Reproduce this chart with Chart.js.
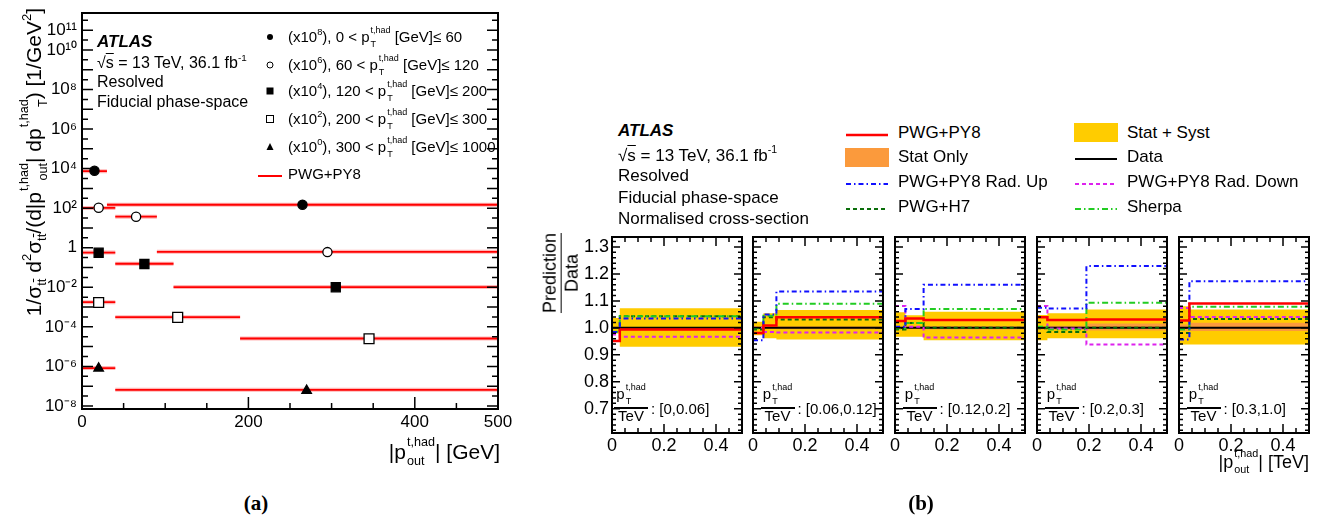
<!DOCTYPE html>
<html>
<head>
<meta charset="utf-8">
<script src="https://cdn.jsdelivr.net/npm/chart.js@4.4.1/dist/chart.umd.min.js"></script>
<style>
  html, body { margin: 0; padding: 0; background: #fff; }
  body { position: relative; width: 1322px; height: 518px; overflow: hidden; color: #000;
         font-family: "Liberation Sans", Arial, sans-serif; }
  .box { position: absolute; }
  .t { position: absolute; white-space: nowrap; line-height: 2; }
  .ss { display: inline-block; font-size: 0.6em; line-height: 1.55; vertical-align: -0.5em; margin-left: 1px; }
  .ss > span { display: block; }
  sup { font-size: 0.62em; line-height: 0; vertical-align: 0.75em; }
  sub { font-size: 0.62em; line-height: 0; vertical-align: -0.4em; }
  .ov { text-decoration: overline; }
  .frac { display: inline-block; text-align: center; line-height: 1.15; }
  .frac > span { display: block; }
  .frac > .den { border-top: 1.5px solid #000; }
</style>
</head>
<body>
<div class="box" style="left:0;top:-4px;width:520px;height:474px"><canvas id="chartA"></canvas></div>
<div class="box" id="panel0" style="top:222px;height:251px"><canvas id="chartB0"></canvas></div>
<div class="box" id="panel1" style="top:222px;height:251px"><canvas id="chartB1"></canvas></div>
<div class="box" id="panel2" style="top:222px;height:251px"><canvas id="chartB2"></canvas></div>
<div class="box" id="panel3" style="top:222px;height:251px"><canvas id="chartB3"></canvas></div>
<div class="box" id="panel4" style="top:222px;height:251px"><canvas id="chartB4"></canvas></div>
<script>
/**
 * pT(t,had) slices and the scale factor each slice is drawn with in (a)
 */
const ptEdgesGeV = ['0', '60', '120', '200', '300', '1000'];
const ptScaleExp = [8, 6, 4, 2, 0];
const ptRangesTeV = ['[0,0.06]', '[0.06,0.12]', '[0.12,0.2]', '[0.2,0.3]', '[0.3,1.0]'];

/**
 * |pout| bin edges (GeV) per slice
 */
const poutEdges0 = [0, 30, 500];
const poutEdges1 = [0, 40, 90, 500];
const poutEdges2 = [0, 40, 110, 500];
const poutEdges3 = [0, 40, 190, 500];
const poutEdges4 = [0, 40, 500];

/**
 * (a) measured cross-sections, already multiplied by the slice factor
 */
const xsecData0 = [7.8e3, 150];
const xsecData1 = [105, 37, 0.6];
const xsecData2 = [0.56, 0.15, 0.010];
const xsecData3 = [1.7e-3, 3.0e-4, 2.5e-5];
const xsecData4 = [8.0e-7, 6.0e-8];

/**
 * (a) PWG+PY8 prediction
 */
const xsecPwgPy80 = [7.4e3, 149];
const xsecPwgPy81 = [103, 37.3, 0.62];
const xsecPwgPy82 = [0.57, 0.155, 0.0103];
const xsecPwgPy83 = [1.76e-3, 3.07e-4, 2.57e-5];
const xsecPwgPy84 = [8.2e-7, 6.5e-8];

/**
 * (b) prediction / data, one list per slice
 */
const ratioPwgPy8 = [[0.951, 0.994], [0.981, 1.009, 1.039], [1.025, 1.035, 1.029], [1.039, 1.029, 1.031], [1.027, 1.090]];
const ratioRadUp = [[0.985, 1.035], [0.954, 1.050, 1.135], [1.004, 1.070, 1.160], [1.075, 1.072, 1.229], [0.957, 1.173]];
const ratioRadDown = [[0.975, 0.967], [1.000, 0.985, 0.983], [1.081, 1.004, 0.964], [1.081, 0.998, 0.938], [1.074, 1.040]];
const ratioPwgH7 = [[0.984, 1.043], [0.994, 1.039, 1.031], [0.994, 1.018, 1.000], [0.999, 0.985, 1.000], [0.981, 1.033]];
const ratioSherpa = [[0.986, 1.043], [0.999, 1.045, 1.089], [0.999, 1.018, 1.070], [1.004, 0.994, 1.093], [0.994, 1.078]];
const ratioData = [[1, 1], [1, 1, 1], [1, 1, 1], [1, 1, 1], [1, 1]];

/**
 * (b) uncertainty bands
 */
const totUp = [[1.037, 1.073], [1.023, 1.054, 1.066], [1.058, 1.047, 1.060], [1.048, 1.054, 1.068], [1.080, 1.068]];
const totDown = [[0.979, 0.930], [0.973, 0.961, 0.957], [0.967, 0.967, 0.954], [0.954, 0.961, 0.961], [0.938, 0.938]];
const statUp = [[1.004, 1.003], [1.004, 1.004, 1.005], [1.005, 1.005, 1.006], [1.006, 1.008, 1.016], [1.012, 1.019]];
const statDown = [[0.996, 0.997], [0.996, 0.996, 0.995], [0.995, 0.995, 0.994], [0.994, 0.992, 0.990], [0.988, 0.988]];

const poutEdges = [poutEdges0, poutEdges1, poutEdges2, poutEdges3, poutEdges4];
const xsecData = [xsecData0, xsecData1, xsecData2, xsecData3, xsecData4];
const xsecPwgPy8 = [xsecPwgPy80, xsecPwgPy81, xsecPwgPy82, xsecPwgPy83, xsecPwgPy84];

Chart.defaults.font.family = '"Liberation Sans", Arial, sans-serif';
Chart.defaults.color = '#000';

/**
 * ROOT style frame with inward ticks
 */
const rootFrame = {
    id: 'rootFrame',
    afterDatasetsDraw(chart, args, opts) {
        const { ctx, chartArea: a } = chart;
        const xs = chart.scales.x, ys = chart.scales.y;
        ctx.save();
        ctx.strokeStyle = '#000';
        ctx.lineWidth = 1.5;
        ctx.beginPath();
        (opts.xTicks || []).forEach(([v, len]) => {
            const px = xs.getPixelForValue(v);
            if (px < a.left + 1 || px > a.right - 1) return;
            ctx.moveTo(px, a.bottom); ctx.lineTo(px, a.bottom - len);
            if (opts.top) { ctx.moveTo(px, a.top); ctx.lineTo(px, a.top + len); }
        });
        (opts.yTicks || []).forEach(([v, len]) => {
            const py = ys.getPixelForValue(v);
            if (py < a.top + 1 || py > a.bottom - 1) return;
            ctx.moveTo(a.left, py); ctx.lineTo(a.left + len, py);
            ctx.moveTo(a.right, py); ctx.lineTo(a.right - len, py);
        });
        ctx.stroke();
        ctx.lineWidth = 2;
        ctx.strokeRect(a.left, a.top, a.width, a.height);
        ctx.restore();
    }
};

/**
 * Helpers
 */
const supMap = { '0': '⁰', '1': '¹', '2': '²', '3': '³', '4': '⁴', '5': '⁵', '6': '⁶', '7': '⁷', '8': '⁸', '9': '⁹', '-': '⁻' };
const toSup = n => String(n).split('').map(c => supMap[c]).join('');
const ss = (up, down) => '<span class="ss"><span>' + up + '</span><span>' + down + '</span></span>';

function put(html, x, cy, size, style) {
    const d = document.createElement('div');
    d.className = 't';
    d.style.fontSize = size + 'px';
    d.style.top = (cy - size) + 'px';
    d.style.left = x + 'px';
    if (style) Object.assign(d.style, style);
    d.innerHTML = html;
    document.body.appendChild(d);
    return d;
}

function svg(x, y, w, h, inner) {
    const d = document.createElement('div');
    d.className = 'box';
    d.style.left = x + 'px';
    d.style.top = y + 'px';
    d.innerHTML = '<svg width="' + w + '" height="' + h + '">' + inner + '</svg>';
    document.body.appendChild(d);
}

function segPoints(edges, vals) {
    const pts = [];
    vals.forEach((v, i) => {
        pts.push({ x: edges[i], y: v }, { x: edges[i + 1], y: v }, { x: edges[i + 1], y: null });
    });
    return pts;
}

function centrePoints(edges, vals) {
    return vals.map((v, i) => ({ x: (edges[i] + edges[i + 1]) / 2, y: v }));
}

function histPoints(edges, vals) {
    const pts = vals.map((v, i) => ({ x: edges[i], y: v }));
    pts.push({ x: edges[edges.length - 1], y: vals[vals.length - 1] });
    return pts;
}

/**
 * (a) Cross-sections
 */
const markerStyles = [
    { pointStyle: 'circle', pointRadius: 4.6, pointBackgroundColor: '#000' },
    { pointStyle: 'circle', pointRadius: 4.6, pointBackgroundColor: '#fff' },
    { pointStyle: 'rect', pointRadius: 6.4, pointBackgroundColor: '#000' },
    { pointStyle: 'rect', pointRadius: 7, pointBackgroundColor: '#fff' },
    { pointStyle: 'triangle', pointRadius: 5.5, pointBackgroundColor: '#000' }
];

const datasetsA = [];
poutEdges.forEach((edges, k) => {
    // prediction halo
    datasetsA.push({
        label: 'PWG+PY8 unc.',
        data: segPoints(edges, xsecPwgPy8[k]),
        showLine: true,
        spanGaps: false,
        borderColor: 'rgba(255,90,90,0.45)',
        borderWidth: 4,
        pointRadius: 0,
        order: 3
    });
    datasetsA.push({
        label: 'PWG+PY8',
        data: segPoints(edges, xsecPwgPy8[k]),
        showLine: true,
        spanGaps: false,
        borderColor: '#ff0000',
        borderWidth: 1.8,
        pointRadius: 0,
        order: 2
    });
    datasetsA.push(Object.assign({
        label: 'Data',
        data: centrePoints(edges, xsecData[k]),
        showLine: false,
        pointBorderColor: '#000',
        pointBorderWidth: 1.3,
        order: 1
    }, markerStyles[k]));
});

const xTicksA = [];
for (let v = 50; v < 500; v += 50) xTicksA.push([v, v % 200 === 0 ? 12 : 6]);
const yTicksA = [];
for (let e = -9; e <= 11; e++) {
    yTicksA.push([Math.pow(10, e), 11]);
    yTicksA.push([Math.pow(10, e + 0.5), 6]);
}

new Chart(document.getElementById('chartA'), {
    type: 'scatter',
    data: { datasets: datasetsA },
    options: {
        responsive: true,
        maintainAspectRatio: false,
        animation: false,
        layout: { padding: { top: 17, right: 22, left: 0, bottom: 0 } },
        plugins: {
            legend: { display: false },
            tooltip: { enabled: false },
            rootFrame: { xTicks: xTicksA, yTicks: yTicksA, top: false }
        },
        scales: {
            x: {
                type: 'linear', min: 0, max: 500,
                grid: { display: false, drawTicks: false },
                border: { display: false },
                afterBuildTicks: s => { s.ticks = [0, 200, 400, 500].map(v => ({ value: v })); },
                afterFit: s => { s.height = 61; },
                ticks: { padding: 3, maxRotation: 0, autoSkip: false, font: { size: 17 } }
            },
            y: {
                type: 'logarithmic', min: 7.5e-9, max: 7.4e11,
                grid: { display: false, drawTicks: false },
                border: { display: false },
                afterBuildTicks: s => {
                    const t = [];
                    for (let e = -8; e <= 11; e++) t.push({ value: Math.pow(10, e) });
                    s.ticks = t;
                },
                afterFit: s => { s.width = 82; },
                ticks: {
                    padding: 5, autoSkip: false, font: { size: 17 },
                    callback: v => {
                        const e = Math.round(Math.log10(v));
                        if (e % 2 !== 0 && e !== 11) return '';
                        return e === 0 ? '1' : '10' + toSup(e);
                    }
                }
            }
        }
    },
    plugins: [rootFrame]
});

/**
 * (b) Ratio panels
 */
const panelLeft = [612, 753, 895, 1037, 1179];
const panelWidth = 130;

const xTicksB = [];
for (let i = 1; i < 10; i++) xTicksB.push([i * 0.05, i % 4 === 0 ? 9 : 5]);
const yTicksB = [];
for (let i = 31; i <= 67; i++) yTicksB.push([i / 50, i % 5 === 0 ? 8 : 4]);

function lineSet(label, edges, vals, color, width, dash, order) {
    return {
        label, data: histPoints(edges, vals), borderColor: color, borderWidth: width,
        borderDash: dash, stepped: true, pointRadius: 0, fill: false, order
    };
}

function bandSet(label, edges, vals, color, fillNext, order) {
    return {
        label, data: histPoints(edges, vals), borderWidth: 0, borderColor: 'rgba(0,0,0,0)',
        backgroundColor: color, fill: fillNext ? '+1' : false, stepped: true, pointRadius: 0, order
    };
}

panelLeft.forEach((left, k) => {
    const first = k === 0;
    const yw = first ? 50 : 0;
    const padL = first ? 0 : 12;
    const holder = document.getElementById('panel' + k);
    holder.style.left = (left - yw - padL) + 'px';
    holder.style.width = (yw + padL + panelWidth + 4) + 'px';

    const edges = poutEdges[k].map(e => e / 1000);

    new Chart(document.getElementById('chartB' + k), {
        type: 'line',
        data: {
            datasets: [
                lineSet('PWG+PY8', edges, ratioPwgPy8[k], '#ff0000', 2.5, [], 0),
                lineSet('PWG+PY8 Rad. Up', edges, ratioRadUp[k], '#1010ff', 2, [5, 3, 1.5, 3], 1),
                lineSet('Sherpa', edges, ratioSherpa[k], '#22cc22', 2, [6, 3, 1.5, 3], 2),
                lineSet('PWG+H7', edges, ratioPwgH7[k], '#0a6e0a', 2, [4, 3], 3),
                lineSet('PWG+PY8 Rad. Down', edges, ratioRadDown[k], '#dd22ee', 2, [4, 3], 4),
                lineSet('Data', edges, ratioData[k], '#000000', 2, [], 5),
                bandSet('Stat Only', edges, statUp[k], '#fb9a3c', true, 8),
                bandSet('stat low', edges, statDown[k], '#fb9a3c', false, 8),
                bandSet('Stat + Syst', edges, totUp[k], '#ffcc00', true, 9),
                bandSet('syst low', edges, totDown[k], '#ffcc00', false, 9)
            ]
        },
        options: {
            responsive: true,
            maintainAspectRatio: false,
            animation: false,
            layout: { padding: { top: 15, right: 4, left: padL, bottom: 0 } },
            plugins: {
                legend: { display: false },
                tooltip: { enabled: false },
                rootFrame: { xTicks: xTicksB, yTicks: yTicksB, top: true }
            },
            scales: {
                x: {
                    type: 'linear', min: 0, max: 0.5,
                    grid: { display: false, drawTicks: false },
                    border: { display: false },
                    afterBuildTicks: s => { s.ticks = [0, 0.2, 0.4].map(v => ({ value: v })); },
                    afterFit: s => { s.height = 40; },
                    ticks: {
                        padding: 2, maxRotation: 0, autoSkip: false, font: { size: 18 },
                        callback: v => (v === 0 ? '0' : v.toFixed(1))
                    }
                },
                y: {
                    display: first,
                    type: 'linear', min: 0.61, max: 1.337,
                    grid: { display: false, drawTicks: false },
                    border: { display: false },
                    afterBuildTicks: s => {
                        const t = [];
                        for (let i = 7; i <= 13; i++) t.push({ value: i / 10 });
                        s.ticks = t;
                    },
                    afterFit: s => { s.width = yw; },
                    ticks: { padding: 3, autoSkip: false, font: { size: 18 }, callback: v => v.toFixed(1) }
                }
            }
        },
        plugins: [rootFrame]
    });

    /**
     * Slice label
     */
    const off = first ? 2 : 7.5;
    put('p' + ss('t,had', 'T'), left + off + 17, 394, 15, { transform: 'translateX(-50%)' });
    const bar = document.createElement('div');
    bar.className = 'box';
    Object.assign(bar.style, { left: (left + off) + 'px', top: '406.5px', width: '34px', height: '2px', background: '#000' });
    document.body.appendChild(bar);
    put('TeV', left + off + 17, 416, 15, { transform: 'translateX(-50%)' });
    put(': ' + ptRangesTeV[k], left + off + 37, 409, 15);
});

/**
 * (a) texts
 */
put('<b><i>ATLAS</i></b>', 97, 42, 17);
put('√<span class="ov">s</span> = 13 TeV, 36.1 fb<sup>-1</sup>', 97, 63, 16);
put('Resolved', 97, 82, 16);
put('Fiducial phase-space', 97, 102, 16);

const legendRowsA = [37, 65, 91, 119, 147];
const legendMarksA = [
    '<circle cx="7" cy="7" r="3" fill="#000"/>',
    '<circle cx="7" cy="7" r="3" fill="#fff" stroke="#000" stroke-width="1"/>',
    '<rect x="3.5" y="3.5" width="7" height="7" fill="#000"/>',
    '<rect x="3.5" y="3.5" width="7" height="7" fill="#fff" stroke="#000" stroke-width="1"/>',
    '<polygon points="7,3 10.5,10 3.5,10" fill="#000"/>'
];
ptScaleExp.forEach((e, k) => {
    svg(263, legendRowsA[k] - 7, 14, 14, legendMarksA[k]);
    put('(x10<sup>' + e + '</sup>), ' + ptEdgesGeV[k] + ' &lt; p' + ss('t,had', 'T') +
        ' [GeV]≤ ' + ptEdgesGeV[k + 1], 288, legendRowsA[k], 15);
});
svg(258, 168, 24, 12, '<line x1="0" y1="6" x2="24" y2="6" stroke="#ff0000" stroke-width="2"/>');
put('PWG+PY8', 288, 174, 15);

put('1/σ<sub>t<span class="ov">t</span></sub> d<sup>2</sup>σ<sub>t<span class="ov">t</span></sub>/(d|p' + ss('t,had', 'out') +
    '| dp' + ss('t,had', 'T') + ') [1/GeV<sup>2</sup>]', 13, 0, 21,
    { top: '428px', width: '420px', textAlign: 'right', transform: 'rotate(-90deg)', transformOrigin: '0 0', lineHeight: '42px' });
put('|p' + ss('t,had', 'out') + '| [GeV]', 0, 452, 21, { left: 'auto', right: (1322 - 500) + 'px' });
put('<b>(a)</b>', 256, 503, 21, { fontFamily: '"Liberation Serif", "Times New Roman", serif', transform: 'translateX(-50%)' });

/**
 * (b) texts
 */
put('<b><i>ATLAS</i></b>', 618, 131, 17);
put('√<span class="ov">s</span> = 13 TeV, 36.1 fb<sup>-1</sup>', 618, 156, 17);
put('Resolved', 618, 176, 17);
put('Fiducial phase-space', 618, 198, 17);
put('Normalised cross-section', 618, 219, 17);

const rowsB = [132.7, 156.7, 181.7, 206.7];
svg(846, rowsB[0] - 6, 42, 12, '<line x1="0" y1="6" x2="42" y2="6" stroke="#ff0000" stroke-width="2.5"/>');
svg(845, 148, 44, 19, '<rect x="0" y="0" width="44" height="19" fill="#fb9a3c"/>');
svg(846, rowsB[2] - 6, 42, 12, '<line x1="0" y1="6" x2="42" y2="6" stroke="#1010ff" stroke-width="2" stroke-dasharray="5 3 1.5 3"/>');
svg(846, rowsB[3] - 6, 42, 12, '<line x1="0" y1="6" x2="42" y2="6" stroke="#0a6e0a" stroke-width="2" stroke-dasharray="4 3"/>');
svg(1074, 123, 44, 19, '<rect x="0" y="0" width="44" height="19" fill="#ffcc00"/>');
svg(1075, rowsB[1] - 6, 42, 12, '<line x1="0" y1="6" x2="42" y2="6" stroke="#000" stroke-width="2"/>');
svg(1075, rowsB[2] - 6, 42, 12, '<line x1="0" y1="6" x2="42" y2="6" stroke="#dd22ee" stroke-width="2" stroke-dasharray="4 3"/>');
svg(1075, rowsB[3] - 6, 42, 12, '<line x1="0" y1="6" x2="42" y2="6" stroke="#22cc22" stroke-width="2" stroke-dasharray="6 3 1.5 3"/>');
put('PWG+PY8', 898, rowsB[0], 17);
put('Stat Only', 898, rowsB[1], 17);
put('PWG+PY8 Rad. Up', 898, rowsB[2], 17);
put('PWG+H7', 898, rowsB[3], 17);
put('Stat + Syst', 1127, rowsB[0], 17);
put('Data', 1127, rowsB[1], 17);
put('PWG+PY8 Rad. Down', 1127, rowsB[2], 17);
put('Sherpa', 1127, rowsB[3], 17);

put('<span class="frac"><span>Prediction</span><span class="den">Data</span></span>', 561, 0, 18,
    { top: '273px', lineHeight: 'normal', transform: 'translate(-50%,-50%) rotate(-90deg)' });
put('|p' + ss('t,had', 'out') + '| [TeV]', 0, 462, 18, { left: 'auto', right: (1322 - 1309) + 'px' });
put('<b>(b)</b>', 921, 503, 21, { fontFamily: '"Liberation Serif", "Times New Roman", serif', transform: 'translateX(-50%)' });
</script>
</body>
</html>
